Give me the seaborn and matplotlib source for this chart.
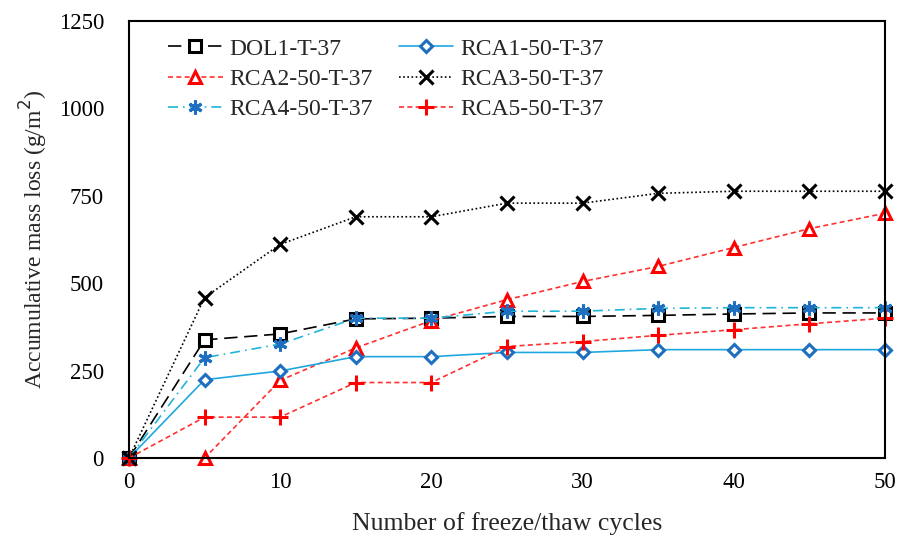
import matplotlib
matplotlib.use("Agg")
import matplotlib.pyplot as plt
import seaborn as sns

# data
cycles = [0, 5, 10, 15, 20, 25, 30, 35, 40, 45, 50]
dol1 = [0, 338, 355, 398, 400, 405, 405, 408, 412, 415, 415]
rca1 = [0, 224, 249, 290, 290, 302, 302, 310, 310, 310, 310]
rca2 = [0, 0, 222, 315, 393, 453, 505, 548, 602, 656, 700]
rca3 = [0, 459, 611, 690, 690, 729, 729, 757, 763, 763, 763]
rca4 = [0, 287, 326, 400, 400, 420, 420, 428, 430, 430, 430]
rca5 = [0, 117, 117, 216, 216, 319, 333, 351, 367, 384, 400]

sns.set_style("white")
plt.rcParams['font.family'] = ['Liberation Serif', 'DejaVu Serif']

fig = plt.figure(figsize=(9, 5.37), dpi=100)
ax = fig.add_axes([0.1433, 0.147, 0.84, 0.814])

# (label, values, line color, marker, marker color, linestyle, markersize)
series = [
    ("DOL1-T-37", dol1, "black", "s", "black", (0, (8, 4)), 8),
    ("RCA2-50-T-37", rca2, "#FF3030", "^", "#FF0000", (0, (3, 2)), 9),
    ("RCA4-50-T-37", rca4, "#1FB5D8", (6, 2, 0), "#1F6FC0", (0, (6, 3, 1, 3)), 10),
    ("RCA1-50-T-37", rca1, "#1FA8E0", "D", "#1F6FC0", "-", 6),
    ("RCA3-50-T-37", rca3, "black", "x", "black", (0, (1, 1.5)), 10),
    ("RCA5-50-T-37", rca5, "#FF3030", "+", "#FF0000", (0, (3, 2)), 11),
]

for label, vals, col, mk, mcol, ls, ms in series:
    hollow = mk in ("s", "^", "D")
    sns.lineplot(x=cycles, y=vals, ax=ax, label=label, color=col,
                 linestyle=ls, linewidth=1.2, marker=mk, markersize=ms,
                 markeredgecolor=mcol, markeredgewidth=2.2,
                 markerfacecolor="white" if hollow else mcol, clip_on=False)

ax.set_xlim(0, 50)
ax.set_ylim(0, 1250)
ax.set_xticks([0, 10, 20, 30, 40, 50])
ax.set_yticks([0, 250, 500, 750, 1000, 1250])
ax.tick_params(direction="in", length=5, labelsize=16.5, colors="black")
ax.tick_params(axis="y", pad=18)
ax.tick_params(axis="x", pad=10)
for s in ax.spines.values():
    s.set_color("black")
    s.set_linewidth(1.5)

ax.set_xlabel("Number of freeze/thaw cycles", fontsize=18.5, labelpad=14)
ax.set_ylabel("Accumulative mass loss (g/m$^2$)", fontsize=17, labelpad=6)

ax.legend(ncol=2, loc="upper left", frameon=False, fontsize=17,
          handlelength=2.3, handletextpad=0.3, columnspacing=1.1,
          labelspacing=0.37, borderpad=0, borderaxespad=0,
          bbox_to_anchor=(0.052, 0.961))

fig.savefig("out.png", dpi=100)
